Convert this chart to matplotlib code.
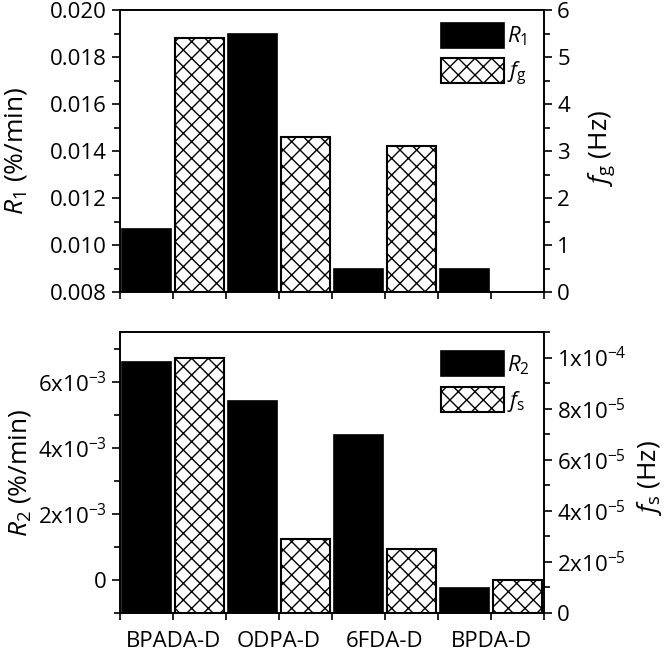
import numpy as np
import matplotlib
matplotlib.use("Agg")
import matplotlib.pyplot as plt
from matplotlib.ticker import MultipleLocator, FuncFormatter

plt.rcParams["font.family"] = ["Open Sans", "DejaVu Sans"]
plt.rcParams["mathtext.fontset"] = "custom"
plt.rcParams["mathtext.rm"] = "Open Sans"
plt.rcParams["mathtext.it"] = "Open Sans:italic"
plt.rcParams["mathtext.default"] = "regular"
plt.rcParams["hatch.linewidth"] = 1.0
plt.rcParams["axes.linewidth"] = 1.2

materials = ["BPADA-D", "ODPA-D", "6FDA-D", "BPDA-D"]
r1 = [0.0107, 0.0190, 0.0090, 0.0090]
fg = [5.4, 3.3, 3.1, np.nan]
r2 = [6.6e-3, 5.4e-3, 4.4e-3, -0.23e-3]
fs = [1.0e-4, 2.9e-5, 2.5e-5, 1.3e-5]

centers = np.array([1, 3, 5, 7])
bar_w = 0.93
tick_fs = 16
label_fs = 19


def sci_fmt(v, pos):
    if abs(v) < 1e-12:
        return "0"
    e = int(np.floor(np.log10(abs(v)) + 1e-9))
    m = int(round(v / 10 ** e))
    return f"{m}x10$^{{{e}}}$"


def style_axes(ax, ax2):
    ax.set_xlim(0, 8)
    ax.set_xticks(range(9))
    ax.set_xticklabels([""] * 9)
    ax.tick_params(axis="x", direction="out", length=5, width=1.2)
    for a in (ax, ax2):
        a.tick_params(axis="y", which="major", direction="out", length=6, width=1.2, labelsize=tick_fs)
        a.tick_params(axis="y", which="minor", direction="out", length=4, width=1.2)


def add_legend(ax2, handles, labels, anchor):
    ax2.legend(handles, labels, loc="upper left", bbox_to_anchor=anchor, frameon=False,
               fontsize=tick_fs, handlelength=2.84, handleheight=1.35, labelspacing=0.45,
               handletextpad=0.15, borderpad=0, borderaxespad=0)


fig = plt.figure(figsize=(6.66, 6.55), dpi=100)
ax_top = fig.add_axes([0.1802, 0.5542, 0.6366, 0.4305])
ax_top2 = ax_top.twinx()
ax_bot = fig.add_axes([0.1802, 0.0641, 0.6366, 0.4290])
ax_bot2 = ax_bot.twinx()

# top panel
base1 = 0.008
b1 = ax_top.bar(centers - 0.5, np.array(r1) - base1, bottom=base1, width=bar_w,
                color="black", edgecolor="black", linewidth=1.2)
fg_arr = np.array(fg)
ok = ~np.isnan(fg_arr)
b2 = ax_top2.bar((centers + 0.5)[ok], fg_arr[ok], width=bar_w, color="white",
                 edgecolor="black", linewidth=1.5, hatch="xx")
ax_top.set_ylim(0.008, 0.020)
ax_top.yaxis.set_major_locator(MultipleLocator(0.002))
ax_top.yaxis.set_minor_locator(MultipleLocator(0.001))
ax_top.yaxis.set_major_formatter(FuncFormatter(lambda v, p: f"{v:.3f}"))
ax_top2.set_ylim(0, 6)
ax_top2.yaxis.set_major_locator(MultipleLocator(1))
ax_top2.yaxis.set_minor_locator(MultipleLocator(0.5))
style_axes(ax_top, ax_top2)
ax_top.set_ylabel("$\\mathit{R}_1$ (%/min)", fontsize=label_fs, ha="center", va="center")
ax_top.yaxis.set_label_coords(-0.245, 0.5)
ax_top2.set_ylabel("$\\mathit{f}_g$ (Hz)", fontsize=label_fs, ha="center", va="center")
ax_top2.yaxis.set_label_coords(1.135, 0.51)
add_legend(ax_top2, [b1, b2], ["$\\mathit{R}_1$", "$\\mathit{f}_g$"], (0.757, 0.954))

# bottom panel
base2 = -0.001
b3 = ax_bot.bar(centers - 0.5, np.array(r2) - base2, bottom=base2, width=bar_w,
                color="black", edgecolor="black", linewidth=1.2)
b4 = ax_bot2.bar(centers + 0.5, fs, width=bar_w, color="white",
                 edgecolor="black", linewidth=1.5, hatch="xx")
ax_bot.set_ylim(-0.001, 0.0075)
ax_bot.yaxis.set_major_locator(MultipleLocator(0.002))
ax_bot.yaxis.set_minor_locator(MultipleLocator(0.001))
ax_bot.yaxis.set_major_formatter(FuncFormatter(sci_fmt))
ax_bot2.set_ylim(0, 1.1e-4)
ax_bot2.yaxis.set_major_locator(MultipleLocator(2e-5))
ax_bot2.yaxis.set_minor_locator(MultipleLocator(1e-5))
ax_bot2.yaxis.set_major_formatter(FuncFormatter(sci_fmt))
style_axes(ax_bot, ax_bot2)
xt = [""] * 9
for c, name in zip(centers, materials):
    xt[c] = name
ax_bot.set_xticklabels(xt, fontsize=tick_fs)
ax_bot.tick_params(axis="x", pad=8)
ax_bot.set_ylabel("$\\mathit{R}_2$ (%/min)", fontsize=label_fs, ha="center", va="center")
ax_bot.yaxis.set_label_coords(-0.236, 0.5)
ax_bot2.set_ylabel("$\\mathit{f}_s$ (Hz)", fontsize=label_fs, ha="center", va="center")
ax_bot2.yaxis.set_label_coords(1.25, 0.48)
add_legend(ax_bot2, [b3, b4], ["$\\mathit{R}_2$", "$\\mathit{f}_s$"], (0.757, 0.932))

fig.savefig("out.png", dpi=100)
plt.close(fig)
